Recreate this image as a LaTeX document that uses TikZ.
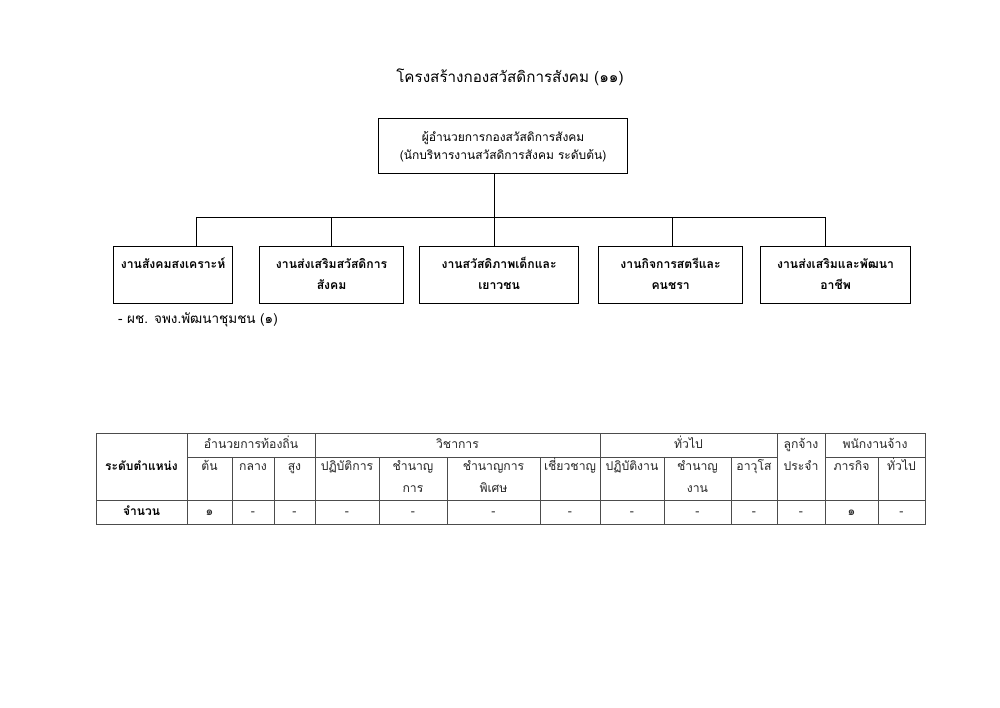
\documentclass[tikz,border=0pt]{standalone}
\usepackage{fontspec}
\setmainfont[Script=Thai]{Loma}
\newcommand\myTopStrut{\rule{0pt}{13pt}}
\newcommand\myBotStrut{\rule[-5pt]{0pt}{5pt}}
\begin{document}
\begin{tikzpicture}[x=1pt,y=-1pt,
  orgbox/.style={draw=black,line width=1.2pt,inner sep=0pt,anchor=north west,align=center},
  wire/.style={draw=black,line width=1pt},
  grid/.style={draw=black!70,line width=0.8pt},
  cell/.style={inner sep=0pt,text height=8.5pt,text depth=2.5pt,font=\fontsize{12.2}{13}\selectfont,text=black!85},
  hcell/.style={inner sep=0pt,text height=8.5pt,text depth=2.5pt,font=\fontsize{12}{13}\selectfont\bfseries},
  boxfont/.style={font=\fontsize{12.2}{21}\selectfont\bfseries}
]
\useasboundingbox (0,0) rectangle (1000,707);
\fill[white] (0,0) rectangle (1000,707);

% title
\node[inner sep=0pt,font=\fontsize{15.2}{16}\selectfont] (title) at (510,77) {โครงสร้างกองสวัสดิการสังคม (๑๑)};

% top box
\node[orgbox,minimum width=249,minimum height=55,font=\fontsize{12}{18}\selectfont] (top) at (378,118)
  {\myTopStrut ผู้อำนวยการกองสวัสดิการสังคม\\(นักบริหารงานสวัสดิการสังคม ระดับต้น)\myBotStrut};

% five boxes
\node[orgbox,boxfont,minimum width=119,minimum height=57] (b1) at (113,246) {\myTopStrut งานสังคมสงเคราะห์\\\mbox{}\myBotStrut};
\node[orgbox,boxfont,minimum width=144,minimum height=57] (b2) at (259,246) {\myTopStrut งานส่งเสริมสวัสดิการ\\สังคม\myBotStrut};
\node[orgbox,boxfont,minimum width=159,minimum height=57] (b3) at (419,246) {\myTopStrut งานสวัสดิภาพเด็กและ\\เยาวชน\myBotStrut};
\node[orgbox,boxfont,minimum width=144,minimum height=57] (b4) at (598,246) {\myTopStrut งานกิจการสตรีและ\\คนชรา\myBotStrut};
\node[orgbox,boxfont,minimum width=150,minimum height=57] (b5) at (760,246) {\myTopStrut งานส่งเสริมและพัฒนา\\อาชีพ\myBotStrut};

% connectors
\coordinate (bus) at (494,217);
\coordinate (d1) at (196,217);
\coordinate (d2) at (331,217);
\coordinate (d3) at (494,217);
\coordinate (d4) at (672,217);
\coordinate (d5) at (825,217);
\draw[wire] (top.south -| bus) -- (bus);
\draw[wire] (d1) -- (d5);
\draw[wire] (d1) -- (d1 |- b1.north);
\draw[wire] (d2) -- (d2 |- b2.north);
\draw[wire] (d3) -- (d3 |- b3.north);
\draw[wire] (d4) -- (d4 |- b4.north);
\draw[wire] (d5) -- (d5 |- b5.north);

% note
\node[inner sep=0pt,anchor=west,font=\fontsize{13.5}{14}\selectfont] (note) at (118,320) {- ผช. จพง.พัฒนาชุมชน (๑)};

% table grid
\draw[grid] (96,433) rectangle (925,524);
\draw[grid] (96,500) -- (925,500);
\draw[grid] (187,457) -- (777,457);
\draw[grid] (825,457) -- (925,457);
\foreach \x in {187,315,600,777,825} \draw[grid] (\x,433) -- (\x,524);
\foreach \x in {232,274,379,447,540,664,731,878} \draw[grid] (\x,457) -- (\x,524);

% table header texts
\node[hcell] (lvl) at (141.5,467) {ระดับตำแหน่ง};
\node[hcell] (cnt) at (141.5,512) {จำนวน};
\node[cell] (g1) at (251,445) {อำนวยการท้องถิ่น};
\node[cell] (g2) at (457.5,445) {วิชาการ};
\node[cell] (g3) at (688.5,445) {ทั่วไป};
\node[cell] (g4a) at (801,445) {ลูกจ้าง};
\node[cell] (g4b) at (801,467) {ประจำ};
\node[cell] (g5) at (875,445) {พนักงานจ้าง};

\node[cell] (s1) at (209.5,467) {ต้น};
\node[cell] (s2) at (253,467) {กลาง};
\node[cell] (s3) at (294.5,467) {สูง};
\node[cell] (s4) at (347,467) {ปฏิบัติการ};
\node[cell] (s5a) at (413,467) {ชำนาญ};
\node[cell] (s5b) at (413,489) {การ};
\node[cell] (s6a) at (493.5,467) {ชำนาญการ};
\node[cell] (s6b) at (493.5,489) {พิเศษ};
\node[cell] (s7) at (570,467) {เชี่ยวชาญ};
\node[cell] (s8) at (632,467) {ปฏิบัติงาน};
\node[cell] (s9a) at (697.5,467) {ชำนาญ};
\node[cell] (s9b) at (697.5,489) {งาน};
\node[cell] (s10) at (754,467) {อาวุโส};
\node[cell] (s12) at (851.5,467) {ภารกิจ};
\node[cell] (s13) at (901.5,467) {ทั่วไป};

% values
\foreach \x/\v [count=\i] in {209.5/๑,253/-,294.5/-,347/-,413/-,493.5/-,570/-,632/-,697.5/-,754/-,801/-,851.5/๑,901.5/-}
  \node[cell] (v\i) at (\x,512) {\v};
\end{tikzpicture}
\end{document}
